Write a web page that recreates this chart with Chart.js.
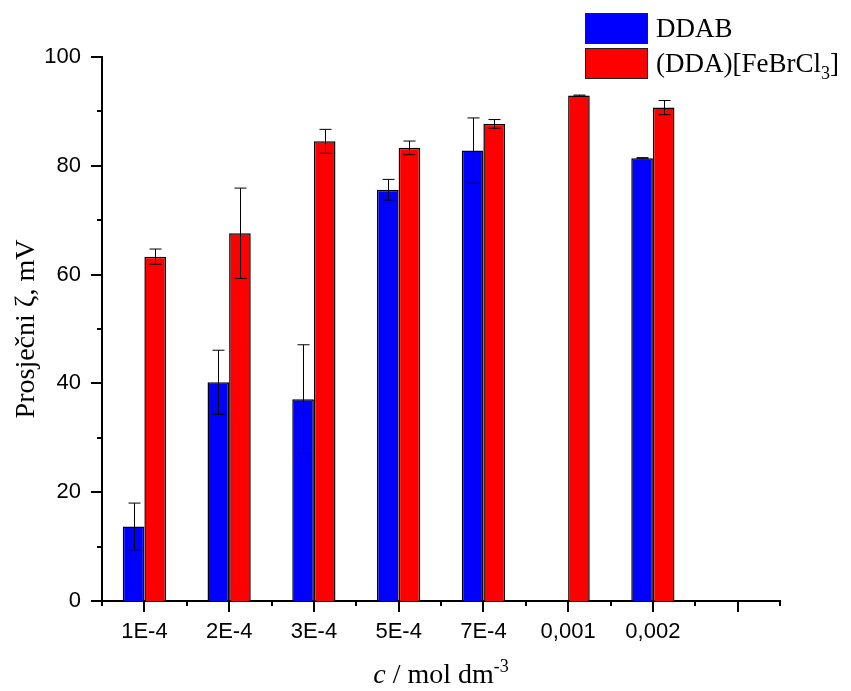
<!DOCTYPE html>
<html>
<head>
<meta charset="utf-8">
<script src="https://cdn.jsdelivr.net/npm/chart.js@4"></script>
<style>
  body { margin: 0; background: #fff; }
  #wrap { width: 851px; height: 691px; }
</style>
</head>
<body>
<div id="wrap"><canvas id="chart" width="851" height="691"></canvas></div>
<script>
// ---- data ----
const categories = ["1E-4", "2E-4", "3E-4", "5E-4", "7E-4", "0,001", "0,002", ""];
const ddab      = [13.7, 40.2, 37.1, 75.6, 82.8, null, 81.4, null];
const ddabErr   = [4.3, 5.9, 10.0, 1.9, 6.0, null, 0.1, null];
const feSalt    = [63.3, 67.6, 84.5, 83.3, 87.7, 92.9, 90.7, null];
const feSaltErr = [1.4, 8.3, 2.2, 1.25, 0.8, 0.1, 1.3, null];
const yTicks    = [0, 20, 40, 60, 80, 100];

const SERIF = "'Liberation Serif', 'Times New Roman', serif";
const SANS = "'Liberation Sans', Arial, sans-serif";

// error bars: drawn over the bars, thin black with caps
const errorBars = {
  id: "errorBars",
  afterDatasetsDraw(chart) {
    const { ctx, scales: { y } } = chart;
    ctx.save();
    ctx.strokeStyle = "#000";
    ctx.lineWidth = 1;
    chart.data.datasets.forEach((ds, di) => {
      const meta = chart.getDatasetMeta(di);
      ds.errors.forEach((e, i) => {
        const v = ds.data[i];
        if (v == null || e == null) return;
        const x = Math.round(meta.data[i].x) + 0.5;
        const yt = y.getPixelForValue(v + e), yb = y.getPixelForValue(v - e);
        ctx.beginPath();
        ctx.moveTo(x, yt); ctx.lineTo(x, yb);
        ctx.moveTo(x - 6, yt); ctx.lineTo(x + 6, yt);
        ctx.moveTo(x - 6, yb); ctx.lineTo(x + 6, yb);
        ctx.stroke();
      });
    });
    ctx.restore();
  }
};

// Origin-style ticks (major + minor, pointing outwards), titles and legend
const decorations = {
  id: "decorations",
  afterDraw(chart) {
    const { ctx, chartArea: a, scales: { x, y } } = chart;
    ctx.save();
    ctx.strokeStyle = "#000";
    ctx.lineWidth = 2;
    ctx.beginPath();
    for (let v = 0; v <= 100; v += 10) {
      const py = Math.round(y.getPixelForValue(v));
      ctx.moveTo(a.left, py);
      ctx.lineTo(a.left - (v % 20 === 0 ? 11 : 5), py);
    }
    for (let i = 0; i < categories.length; i++) {
      const px = Math.round(x.getPixelForValue(i));
      ctx.moveTo(px, a.bottom); ctx.lineTo(px, a.bottom + 11);
    }
    for (let i = 0; i <= categories.length; i++) {
      const px = Math.round((x.getPixelForValue(i - 1) + x.getPixelForValue(i)) / 2);
      ctx.moveTo(px, a.bottom); ctx.lineTo(px, a.bottom + 5);
    }
    ctx.stroke();

    ctx.fillStyle = "#000";
    // y title
    ctx.save();
    ctx.translate(34, (a.top + a.bottom) / 2);
    ctx.rotate(-Math.PI / 2);
    ctx.font = "28px " + SERIF;
    ctx.textAlign = "center";
    ctx.textBaseline = "alphabetic";
    ctx.fillText("Prosječni ζ, mV", 0, 0);
    ctx.restore();

    // x title: c / mol dm^-3
    const parts = [
      { t: "c", f: "italic 28px " + SERIF, dy: 0 },
      { t: " / mol dm", f: "28px " + SERIF, dy: 0 },
      { t: "-3", f: "18px " + SERIF, dy: -11 }
    ];
    drawParts(ctx, parts, (a.left + a.right) / 2, 683, "center");

    // legend
    const legend = [
      [{ t: chart.data.datasets[0].label, f: "27px " + SERIF, dy: 0 }],
      [{ t: "(DDA)[FeBrCl", f: "27px " + SERIF, dy: 0 },
       { t: "3", f: "18px " + SERIF, dy: 7 },
       { t: "]", f: "27px " + SERIF, dy: 0 }]
    ];
    chart.data.datasets.forEach((ds, i) => {
      const top = 13 + i * 35;
      ctx.fillStyle = ds.backgroundColor;
      ctx.fillRect(585, top, 63, 30);
      ctx.lineWidth = 1;
      ctx.strokeStyle = "#222";
      ctx.strokeRect(585.5, top + 0.5, 62, 30);
      ctx.fillStyle = "#000";
      drawParts(ctx, legend[i], 656, top + 24, "left");
    });
    ctx.restore();
  }
};

function drawParts(ctx, parts, x, baseline, align) {
  let w = 0;
  parts.forEach(p => { ctx.font = p.f; p.w = ctx.measureText(p.t).width; w += p.w; });
  let cx = align === "center" ? x - w / 2 : x;
  ctx.textAlign = "left";
  ctx.textBaseline = "alphabetic";
  parts.forEach(p => { ctx.font = p.f; ctx.fillText(p.t, cx, baseline + p.dy); cx += p.w; });
}

new Chart(document.getElementById("chart"), {
  type: "bar",
  data: {
    labels: categories,
    datasets: [
      { label: "DDAB", data: ddab, errors: ddabErr, backgroundColor: "#0000ff",
        borderColor: "#000", borderWidth: 1.5 },
      { label: "(DDA)[FeBrCl3]", data: feSalt, errors: feSaltErr, backgroundColor: "#ff0000",
        borderColor: "#000", borderWidth: 1.5 }
    ]
  },
  options: {
    responsive: false,
    animation: false,
    events: [],
    categoryPercentage: 0.51,
    barPercentage: 1.0,
    layout: { padding: { left: 0, top: 57, right: 71, bottom: 0 } },
    plugins: { legend: { display: false }, tooltip: { enabled: false } },
    scales: {
      x: {
        grid: { display: false },
        border: { color: "#000", width: 2 },
        ticks: { color: "#000", font: { family: SANS, size: 22 }, padding: 10, maxRotation: 0, autoSkip: false },
        afterFit: s => { s.height = 90; }
      },
      y: {
        min: 0, max: 100,
        afterBuildTicks: s => { s.ticks = yTicks.map(v => ({ value: v })); },
        grid: { display: false },
        border: { color: "#000", width: 2 },
        ticks: { color: "#000", font: { family: SANS, size: 22 }, padding: 13 },
        afterFit: s => { s.width = 102; }
      }
    }
  },
  plugins: [errorBars, decorations]
});
</script>
</body>
</html>
